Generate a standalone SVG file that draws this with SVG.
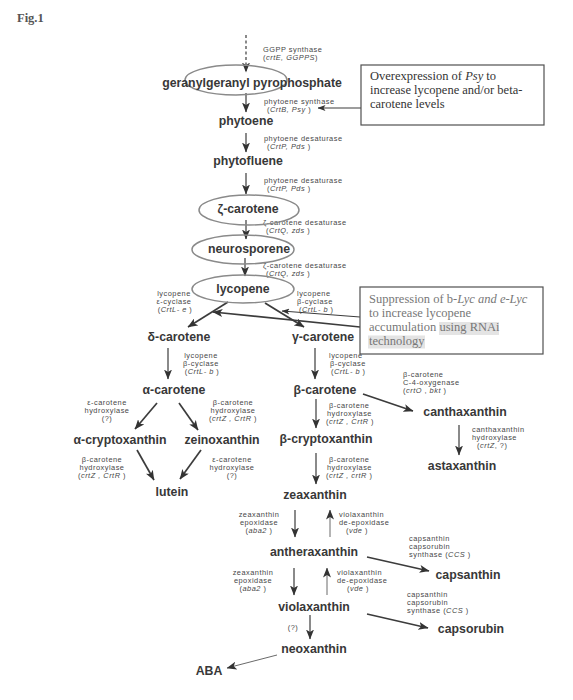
<svg xmlns="http://www.w3.org/2000/svg" width="573" height="700" viewBox="0 0 573 700">
<style>
.n{font:bold 12.3px "Liberation Sans",Arial,sans-serif;fill:#383838;text-anchor:middle}
.e{font:7.4px "Liberation Sans",Arial,sans-serif;fill:#474747;letter-spacing:0.5px}
.m{text-anchor:middle}
.i{font-style:italic}
.b{font:12.5px "Liberation Serif","Times New Roman",serif}
.el{fill:none;stroke:#8a8a8a;stroke-width:1.5}
.ln{stroke:#3c3c3c;stroke-width:1.2;fill:none;marker-end:url(#ah)}
.th{stroke-width:1.7}
.lt{stroke:#6a6a6a;stroke-width:1}
.bx{fill:#fff;stroke:#505050;stroke-width:1.2}
</style>
<defs>
<marker id="ah" viewBox="0 0 10 8" refX="9.5" refY="4" markerWidth="10" markerHeight="8" orient="auto" markerUnits="userSpaceOnUse"><path d="M0,0 L10,4 L0,8 L2.5,4 z" fill="#333"/></marker>
<marker id="as" viewBox="0 0 8 6" refX="7.5" refY="3" markerWidth="8" markerHeight="6" orient="auto" markerUnits="userSpaceOnUse"><path d="M0,0 L8,3 L0,6 L2,3 z" fill="#333"/></marker>
</defs>
<rect width="573" height="700" fill="#fff"/>
<text x="17" y="22" style="font:bold 12.5px 'Liberation Serif',serif;fill:#555">Fig.1</text>

<g id="connectors">
<path class="ln" d="M246,35 L246,72" stroke-dasharray="3,2.5"/>
<path class="ln" d="M246,93 L246,112"/>
<path class="ln" d="M246,133 L246,152"/>
<path class="ln" d="M246,173 L246,194"/>
<path class="ln" d="M246,220 L246,239"/>
<path class="ln" d="M245,258 L245,276"/>
<path class="ln th" d="M228,302 L188,327"/>
<path class="ln th" d="M265,303 L304,327"/>
<path class="ln" d="M361,108 L318,108" style="marker-end:url(#as)"/>
<path class="ln" d="M360,317 L282,311" style="marker-end:url(#as)"/>
<path class="ln th" d="M360,327 L213,312"/>
<path class="ln" d="M168,348 L168,379"/>
<path class="ln" d="M315,348 L315,379"/>
<path class="ln th" d="M157,403 L135,429"/>
<path class="ln th" d="M179,403 L198,430"/>
<path class="ln th" d="M137,450 L154,480"/>
<path class="ln th" d="M201,450 L180,479"/>
<path class="ln" d="M316,399 L316,428"/>
<path class="ln" d="M316,453 L316,484"/>
<path class="ln th" d="M363,394 L413,411"/>
<path class="ln" d="M459,425 L459,455"/>
<path class="ln" d="M295,510 L295,537"/>
<path class="ln lt" d="M330,537 L330,510"/>
<path class="ln th" d="M367,557 L429,571"/>
<path class="ln" d="M294,568 L294,595"/>
<path class="ln lt" d="M327,595 L327,568"/>
<path class="ln th" d="M367,614 L428,628"/>
<path class="ln" d="M310,615 L310,639"/>
<path class="ln lt" d="M277,655 L227,668"/>
</g>

<g id="enzymes" class="e">
<text x="263" y="52">GGPP synthase<tspan x="263" y="60.3">(<tspan class="i">crtE, GGPPS</tspan>)</tspan></text>
<text x="264" y="103.5">phytoene synthase<tspan x="267" y="111.8">(<tspan class="i">CrtB, Psy</tspan> )</tspan></text>
<text x="264" y="141">phytoene desaturase<tspan x="267" y="149.3">(<tspan class="i">CrtP, Pds</tspan>  )</tspan></text>
<text x="264" y="182.5">phytoene desaturase<tspan x="267" y="190.8">(<tspan class="i">CrtP, Pds</tspan>  )</tspan></text>
<text x="263" y="224.5">ζ-carotene desaturase<tspan x="266" y="232.8">(<tspan class="i">CrtQ, zds</tspan> )</tspan></text>
<text x="263" y="267.5">ζ-carotene desaturase<tspan x="266" y="275.8">(<tspan class="i">CrtQ, zds</tspan>  )</tspan></text>
<text class="m" x="174" y="295.5">lycopene<tspan x="174" y="303.8">ε-cyclase</tspan><tspan x="175" y="312.1">(<tspan class="i">CrtL- e</tspan> )</tspan></text>
<text x="297" y="295.5">lycopene<tspan x="297" y="303.8">β-cyclase</tspan><tspan x="299" y="312.1">(<tspan class="i">CrtL- b</tspan> )</tspan></text>
<text class="m" x="201" y="357.5">lycopene<tspan x="201" y="365.8">β-cyclase</tspan><tspan x="202" y="374.1">(<tspan class="i">CrtL- b</tspan> )</tspan></text>
<text x="329" y="357.5">lycopene<tspan x="330" y="365.8">β-cyclase</tspan><tspan x="331" y="374.1">(<tspan class="i">CrtL- b</tspan> )</tspan></text>
<text class="m" x="107" y="404.5">ε-carotene<tspan x="107" y="412.8">hydroxylase</tspan><tspan x="107" y="421.1">(?)</tspan></text>
<text class="m" x="233" y="404.5">β-carotene<tspan x="233" y="412.8">hydroxylase</tspan><tspan x="233" y="421.1">(<tspan class="i">crtZ , CrtR</tspan> )</tspan></text>
<text class="m" x="102" y="461.5">β-carotene<tspan x="102" y="469.8">hydroxylase</tspan><tspan x="102" y="478.1">(<tspan class="i">crtZ , CrtR</tspan> )</tspan></text>
<text class="m" x="232" y="461.5">ε-carotene<tspan x="232" y="469.8">hydroxylase</tspan><tspan x="232" y="478.1">(?)</tspan></text>
<text x="329" y="407.5">β-carotene<tspan x="327" y="415.8">hydroxylase</tspan><tspan x="326" y="424.1">(<tspan class="i">crtZ , CrtR</tspan> )</tspan></text>
<text x="329" y="461.5">β-carotene<tspan x="327" y="469.8">hydroxylase</tspan><tspan x="326" y="478.1">(<tspan class="i">crtZ , crtR</tspan> )</tspan></text>
<text x="403" y="376.5">β-carotene<tspan x="403" y="384.8">C-4-oxygenase</tspan><tspan x="403" y="393.1">(<tspan class="i">crtO</tspan> ,  <tspan class="i">bkt</tspan> )</tspan></text>
<text x="472" y="431.5">canthaxanthin<tspan x="472" y="439.8">hydroxylase</tspan><tspan x="477" y="448.1">(<tspan class="i">crtZ</tspan>, ?)</tspan></text>
<text class="m" x="259" y="516.5">zeaxanthin<tspan x="259" y="524.8">epoxidase</tspan><tspan x="259" y="533.1">(<tspan class="i">aba2</tspan> )</tspan></text>
<text x="339" y="516.5">violaxanthin<tspan x="339" y="524.8">de-epoxidase</tspan><tspan class="m" x="357" y="533.1">(<tspan class="i">vde</tspan> )</tspan></text>
<text x="409" y="540.5">capsanthin<tspan x="409" y="548.8">capsorubin</tspan><tspan x="409" y="557.1">synthase (<tspan class="i">CCS</tspan> )</tspan></text>
<text class="m" x="253" y="574.5">zeaxanthin<tspan x="253" y="582.8">epoxidase</tspan><tspan x="253" y="591.1">(<tspan class="i">aba2</tspan> )</tspan></text>
<text x="337" y="574.5">violaxanthin<tspan x="337" y="582.8">de-epoxidase</tspan><tspan class="m" x="358" y="591.1">(<tspan class="i">vde</tspan> )</tspan></text>
<text x="407" y="596.5">capsanthin<tspan x="407" y="604.8">capsorubin</tspan><tspan x="407" y="613.1">synthase (<tspan class="i">CCS</tspan> )</tspan></text>
<text class="m" x="293" y="630">(?)</text>
</g>

<g id="ggpp"><ellipse class="el" cx="236" cy="80" rx="51" ry="15"/><text class="n" x="252" y="87">geranylgeranyl pyrophosphate</text></g>
<g id="phytoene"><text class="n" x="246" y="125">phytoene</text></g>
<g id="phytofluene"><text class="n" x="248" y="165">phytofluene</text></g>
<g id="zeta-carotene"><ellipse class="el" cx="249" cy="210" rx="50" ry="15"/><text class="n" x="248" y="213">ζ-carotene</text></g>
<g id="neurosporene"><ellipse class="el" cx="243" cy="249.5" rx="51" ry="14.5"/><text class="n" x="249" y="253">neurosporene</text></g>
<g id="lycopene"><ellipse class="el" cx="243" cy="289" rx="51" ry="14"/><text class="n" x="243" y="293">lycopene</text></g>
<g id="delta-carotene"><text class="n" x="179" y="341">δ-carotene</text></g>
<g id="gamma-carotene"><text class="n" x="323" y="341">γ-carotene</text></g>
<g id="alpha-carotene"><text class="n" x="174" y="394">α-carotene</text></g>
<g id="beta-carotene"><text class="n" x="325" y="394">β-carotene</text></g>
<g id="alpha-cryptoxanthin"><text class="n" x="120" y="444">α-cryptoxanthin</text></g>
<g id="zeinoxanthin"><text class="n" x="222" y="444">zeinoxanthin</text></g>
<g id="lutein"><text class="n" x="172" y="496">lutein</text></g>
<g id="beta-cryptoxanthin"><text class="n" x="326" y="443">β-cryptoxanthin</text></g>
<g id="zeaxanthin"><text class="n" x="315" y="499">zeaxanthin</text></g>
<g id="canthaxanthin"><text class="n" x="465" y="416">canthaxanthin</text></g>
<g id="astaxanthin"><text class="n" x="462" y="470">astaxanthin</text></g>
<g id="antheraxanthin"><text class="n" x="314" y="556">antheraxanthin</text></g>
<g id="capsanthin"><text class="n" x="468" y="579">capsanthin</text></g>
<g id="violaxanthin"><text class="n" x="314" y="611">violaxanthin</text></g>
<g id="capsorubin"><text class="n" x="471" y="633">capsorubin</text></g>
<g id="neoxanthin"><text class="n" x="314" y="653">neoxanthin</text></g>
<g id="aba"><text class="n" x="209" y="675">ABA</text></g>

<g id="box-psy">
<rect class="bx" x="361" y="65" width="183" height="60"/>
<text class="b" x="370" y="80" fill="#333">Overexpression of <tspan class="i">Psy</tspan> to<tspan x="370" y="94">increase lycopene and/or beta-</tspan><tspan x="370" y="108">carotene levels</tspan></text>
</g>
<g id="box-rnai">
<rect class="bx" x="360" y="287" width="183" height="67"/>
<rect x="439" y="322" width="60" height="13" fill="#e4e4e4"/>
<rect x="368" y="335.5" width="57" height="13" fill="#e4e4e4"/>
<text class="b" x="369" y="303" fill="#777">Suppression of b-<tspan class="i">Lyc and e-Lyc</tspan><tspan x="369" y="317">to increase lycopene</tspan><tspan x="369" y="331">accumulation using RNAi</tspan><tspan x="369" y="345">technology</tspan></text>
</g>
</svg>
